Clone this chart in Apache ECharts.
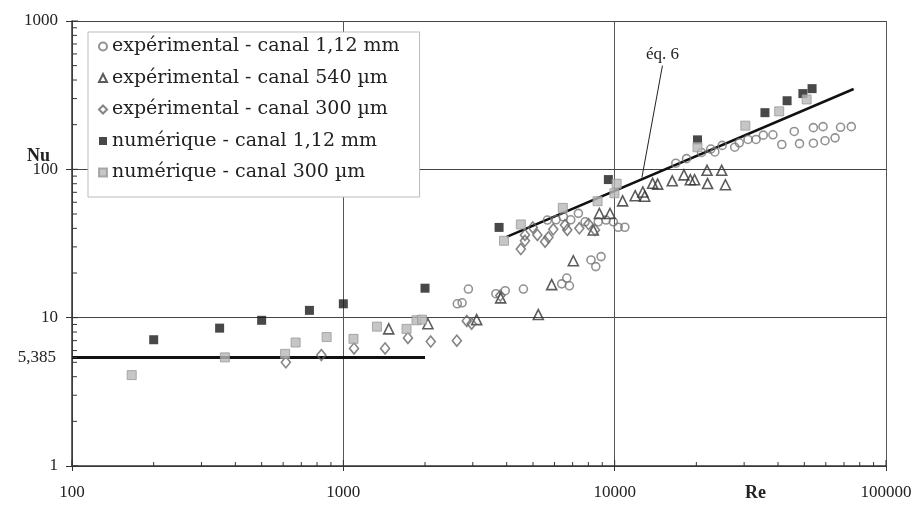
<!DOCTYPE html>
<html>
<head>
<meta charset="utf-8">
<script src="https://cdn.jsdelivr.net/npm/echarts@6/dist/echarts.min.js"></script>
<style>
  html, body { margin: 0; padding: 0; background: #fff; }
  #chart { width: 922px; height: 509px; }
</style>
</head>
<body>
<div id="chart"></div>
<script>
// valeurs : [Re, Nu]
const expCanal112 = [
  [2630, 12.4], [2740, 12.6], [2890, 15.6], [3650, 14.5], [3950, 15.2], [4610, 15.6],
  [6380, 16.9], [6660, 18.5], [6810, 16.4], [8180, 24.5], [8520, 22.1], [8910, 25.8],
  [5650, 45.5], [6080, 45.7], [6470, 47.9], [6890, 45.7], [7350, 50.5], [7780, 44.3],
  [8700, 44.3], [9290, 45.5], [9890, 44.3], [10300, 40.7], [10900, 40.7],
  [16800, 110], [18400, 118], [20900, 130], [22600, 137], [23400, 131], [24900, 145],
  [27700, 141], [28800, 151], [31000, 159], [33200, 159], [35300, 170], [38300, 171],
  [41300, 147], [45900, 180], [48000, 149], [54000, 150], [54000, 191], [58600, 194],
  [59600, 156], [64900, 163], [68000, 192], [74500, 194]
]
const expCanal540 = [
  [1470, 8.4], [2050, 9.1], [3100, 9.7], [3800, 13.6], [5230, 10.5], [5860, 16.7],
  [7040, 24.2], [8340, 39], [8780, 50.4], [9610, 50.4], [10700, 61.3], [11900, 66.4],
  [12700, 70.4], [12900, 65.9], [13800, 80.5], [14400, 79.5], [16300, 83.7], [18000, 91.8],
  [19000, 85.1], [19700, 85.1], [21900, 98.5], [22000, 80.2], [24800, 98.5], [25600, 78.7]
]
const expCanal300 = [
  [614, 5.0], [830, 5.6], [1095, 6.2], [1425, 6.2], [1730, 7.3], [2100, 6.9], [2620, 7.0],
  [2850, 9.5], [2970, 9.1], [3790, 14.1], [4510, 29.0], [4670, 33.0], [4670, 36.1],
  [4990, 40.6], [5190, 36.1], [5540, 32.5], [5700, 34.8], [5940, 39.4], [6560, 42.1],
  [6690, 39.0], [7410, 40.0], [8010, 42.8], [8460, 39.0]
]
const numCanal112 = [
  [200, 7.1], [350, 8.5], [500, 9.6], [750, 11.2], [1000, 12.4], [2000, 15.8], [3750, 40.6],
  [9480, 85.3], [20200, 158], [35800, 241], [43200, 290], [49400, 324], [53400, 350]
]
const numCanal300 = [
  [166, 4.1], [366, 5.4], [610, 5.7], [667, 6.8], [868, 7.4], [1090, 7.2], [1330, 8.7],
  [1710, 8.4], [1860, 9.6], [1950, 9.7], [3910, 33], [4510, 42.5], [6440, 55], [8650, 61],
  [9980, 69], [10170, 80], [20200, 141], [30300, 197], [40400, 246], [51000, 296]
]
const laminaire = [[100, 5.385], [2000, 5.385]]
const eq6 = [[4000, 35], [76000, 348]]
const eq6Leader = [[15000, 500], [12600, 88]]

const yMinorTicks = [2, 3, 4, 5, 6, 7, 8, 9, 20, 30, 40, 50, 60, 70, 80, 90, 200, 300, 400, 500, 600, 700, 800, 900, 5.385]
const xMinorTicks = [200, 300, 400, 500, 600, 700, 800, 900, 2000, 3000, 4000, 5000, 6000, 7000, 8000, 9000,
  20000, 30000, 40000, 50000, 60000, 70000, 80000, 90000]
const yMajorTicks = [1, 10, 100, 1000]
const xMajorTicks = [100, 1000, 10000, 100000]

const names = [
  'expérimental - canal 1,12 mm',
  'expérimental - canal 540 µm',
  'expérimental - canal 300 µm',
  'numérique - canal 1,12 mm',
  'numérique - canal 300 µm'
]

const serif = 'Liberation Serif'
const chart = echarts.init(document.getElementById('chart'))

// petits traits de graduation dessinés à partir des valeurs
const tickSeries = (data, a, b) => ({
  type: 'custom',
  silent: true,
  clip: false,
  z: 5,
  data: data,
  renderItem: (params, api) => {
    const p = api.coord([api.value(0), api.value(1)])
    return {
      type: 'line',
      shape: { x1: p[0] + a[0], y1: p[1] + a[1], x2: p[0] + b[0], y2: p[1] + b[1] },
      style: { stroke: '#333', lineWidth: 1 }
    }
  }
})

const hollow = (color) => ({ color: 'rgba(255,255,255,0)', borderColor: color, borderWidth: 1.6 })

const option = {
  backgroundColor: '#fff',
  animation: false,
  grid: { left: 72, right: 36, top: 21, bottom: 43 },
  legend: {
    data: names,
    orient: 'vertical',
    left: 88,
    top: 32,
    backgroundColor: '#fff',
    borderColor: '#bbb',
    borderWidth: 1,
    padding: [5, 20, 15, 10],
    itemGap: 12.5,
    itemWidth: 8,
    itemHeight: 8,
    textStyle: { fontFamily: 'DejaVu Serif', fontSize: 19, color: '#222' }
  },
  xAxis: {
    type: 'log',
    logBase: 10,
    min: 100,
    max: 100000,
    axisLine: { lineStyle: { color: '#333', width: 1.5 } },
    axisTick: { show: true, length: 5, lineStyle: { color: '#333' } },
    axisLabel: {
      margin: 18,
      fontFamily: serif,
      fontSize: 17,
      color: '#222',
      formatter: v => String(Math.round(v))
    },
    splitLine: { show: true, lineStyle: { color: '#555', width: 1 } }
  },
  yAxis: {
    type: 'log',
    logBase: 10,
    min: 1,
    max: 1000,
    axisLine: { show: true, lineStyle: { color: '#333', width: 1.5 } },
    axisTick: { show: true, length: 6, lineStyle: { color: '#333' } },
    axisLabel: {
      margin: 14,
      fontFamily: serif,
      fontSize: 17,
      color: '#222',
      formatter: v => String(Math.round(v))
    },
    splitLine: { show: true, lineStyle: { color: '#444', width: 1 } }
  },
  graphic: [
    { type: 'text', left: 27, top: 147, style: { text: 'Nu', fontFamily: serif, fontSize: 18, fontWeight: 'bold', fill: '#222' } },
    { type: 'text', left: 745, top: 484, style: { text: 'Re', fontFamily: serif, fontSize: 18, fontWeight: 'bold', fill: '#222' } }
  ],
  series: [
    {
      name: 'laminaire',
      type: 'line',
      data: [
        { value: laminaire[0], label: { show: true, position: 'left', distance: 16, formatter: '5,385', fontFamily: serif, fontSize: 17, color: '#222' } },
        laminaire[1]
      ],
      symbol: 'circle',
      symbolSize: 0,
      showSymbol: true,
      lineStyle: { color: '#111', width: 3 },
      itemStyle: { color: '#111' },
      z: 3
    },
    {
      name: 'éq. 6',
      type: 'line',
      data: eq6,
      symbol: 'none',
      lineStyle: { color: '#111', width: 2.5 },
      z: 3
    },
    {
      name: 'repère éq. 6',
      type: 'line',
      data: [
        { value: eq6Leader[0], label: { show: true, position: 'top', distance: 3, formatter: 'éq. 6', fontFamily: serif, fontSize: 17, color: '#222' } },
        eq6Leader[1]
      ],
      symbol: 'circle',
      symbolSize: 0,
      showSymbol: true,
      lineStyle: { color: '#222', width: 1 },
      itemStyle: { color: '#222' },
      z: 3
    },
    {
      name: names[0], type: 'scatter', data: expCanal112,
      symbol: 'circle', symbolSize: 8, itemStyle: hollow('#777'), z: 4
    },
    {
      name: names[1], type: 'scatter', data: expCanal540,
      symbol: 'triangle', symbolSize: 10, itemStyle: hollow('#333'), z: 4
    },
    {
      name: names[2], type: 'scatter', data: expCanal300,
      symbol: 'diamond', symbolSize: [9, 11], itemStyle: hollow('#666'), z: 4
    },
    {
      name: names[3], type: 'scatter', data: numCanal112,
      symbol: 'rect', symbolSize: 9, itemStyle: { color: '#1a1a1a' }, z: 4
    },
    {
      name: names[4], type: 'scatter', data: numCanal300,
      symbol: 'rect', symbolSize: 9, itemStyle: { color: '#b8b8b8', borderColor: '#999', borderWidth: 1 }, z: 4
    },
    tickSeries(yMinorTicks.map(v => [100, v]), [0, 0], [5, 0]),
    tickSeries(yMajorTicks.map(v => [100, v]), [0, 0], [6, 0]),
    tickSeries(xMinorTicks.map(v => [v, 1]), [0, 0], [0, -4]),
    tickSeries(xMajorTicks.map(v => [v, 1]), [0, 0], [0, -6])
  ]
}

chart.setOption(option)
window.addEventListener('resize', () => chart.resize())
</script>
</body>
</html>
